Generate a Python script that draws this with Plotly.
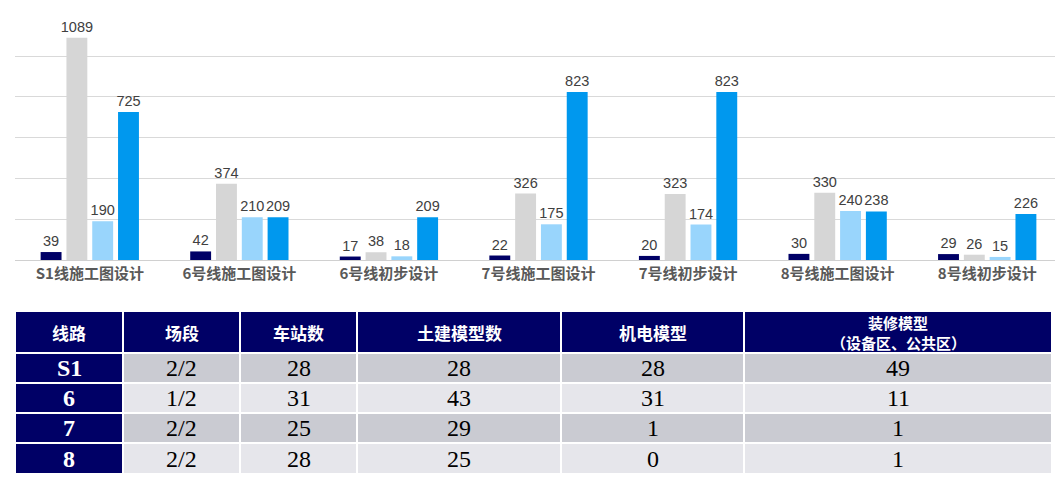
import plotly.graph_objects as go

# 柱状图数据
categories = ["S1线施工图设计", "6号线施工图设计", "6号线初步设计", "7号线施工图设计",
              "7号线初步设计", "8号线施工图设计", "8号线初步设计"]
series_a = [39, 42, 17, 22, 20, 30, 29]
series_b = [1089, 374, 38, 326, 323, 330, 26]
series_c = [190, 210, 18, 175, 174, 240, 15]
series_d = [725, 209, 209, 823, 823, 238, 226]

# 表格数据
header = ["线路", "场段", "车站数", "土建模型数", "机电模型", "装修模型<br>（设备区、公共区）"]
col_line = ["S1", "6", "7", "8"]
col_depot = ["2/2", "1/2", "2/2", "2/2"]
col_station = [28, 31, 25, 28]
col_civil = [28, 43, 29, 25]
col_mep = [28, 31, 1, 0]
col_deco = [49, 11, 1, 1]

# 页面 body 自带 8px 边距，这里整体往回挪
OFF = 8
W, H = 1063 - OFF, 484 - OFF
navy = "#000066"
colors = [navy, "#D6D6D6", "#99D5FC", "#0098EE"]
row_dark, row_light = "#CACBD2", "#E6E6EB"
serif = "Liberation Serif, Times New Roman"

fig = go.Figure()
for vals, c in zip([series_a, series_b, series_c, series_d], colors):
    fig.add_trace(go.Bar(
        x=categories, y=vals, marker_color=c, marker_line_width=0,
        text=vals, textposition="outside", cliponaxis=False, constraintext="none",
        textfont=dict(family="Liberation Sans, Arial", size=14.5, color="#404040"),
        showlegend=False, xaxis="x", yaxis="y",
    ))

# 表格：用热力图画格子，注释写字
col_w = [108, 117, 117, 204, 183, 308]
row_h = [42, 30, 30, 30, 31]
x_edges = [0]
for w in col_w:
    x_edges.append(x_edges[-1] + w)
y_edges = [0]
for h in row_h:
    y_edges.append(y_edges[-1] + h)

body = [col_depot, col_station, col_civil, col_mep, col_deco]
z = [[0] * len(header)]
for i in range(len(col_line)):
    z.append([0] + [1 + i % 2] * len(body))

fig.add_trace(go.Heatmap(
    z=z, x=x_edges, y=y_edges, xaxis="x2", yaxis="y2",
    zmin=0, zmax=2, colorscale=[[0, navy], [0.5, row_dark], [1, row_light]],
    showscale=False, xgap=2, ygap=2, hoverinfo="skip",
))

xc = [(x_edges[i] + x_edges[i + 1]) / 2 for i in range(len(col_w))]
yc = [(y_edges[i] + y_edges[i + 1]) / 2 for i in range(len(row_h))]
ann = []
for j, h in enumerate(header):
    lines = h.split("<br>")
    if len(lines) == 1:
        ys, size = [yc[0]], 17
    else:
        ys, size = [yc[0] - 10, yc[0] + 10], 15
    for line, y in zip(lines, ys):
        ann.append(dict(x=xc[j], y=y, xref="x2", yref="y2", text=f"<b>{line}</b>",
                        showarrow=False, borderpad=0,
                        font=dict(family="Noto Sans CJK SC", size=size, color="white")))
for i, v in enumerate(col_line):
    ann.append(dict(x=xc[0], y=yc[i + 1], xref="x2", yref="y2", text=f"<b>{v}</b>",
                    showarrow=False, font=dict(family=serif, size=24, color="white")))
for j, col in enumerate(body):
    for i, v in enumerate(col):
        ann.append(dict(x=xc[j + 1], y=yc[i + 1], xref="x2", yref="y2", text=str(v),
                        showarrow=False, font=dict(family=serif, size=24, color="black")))

fig.update_layout(
    width=W, height=H,
    margin=dict(l=0, r=0, t=0, b=0),
    paper_bgcolor="white", plot_bgcolor="rgba(0,0,0,0)",
    barmode="group", bargap=0.31, bargroupgap=0.19,
    annotations=ann,
    xaxis=dict(domain=[(15 - OFF) / W, (1062 - OFF) / W], showline=True,
               linecolor="#D0D0D0", ticks="",
               tickfont=dict(family="Noto Sans CJK SC", size=15, color="#595959",
                             weight="bold")),
    yaxis=dict(domain=[1 - (260 - OFF) / H, 1 - (15 - OFF) / H], range=[0, 1201],
               tickvals=[200, 400, 600, 800, 1000, 1200],
               showticklabels=False, gridcolor="#D9D9D9", zeroline=False),
    xaxis2=dict(domain=[(15 - OFF) / W, (1052 - OFF) / W], range=[0, x_edges[-1]],
                visible=False, anchor="y2"),
    yaxis2=dict(domain=[1 - (474 - OFF) / H, 1 - (311 - OFF) / H],
                range=[y_edges[-1], 0], visible=False, anchor="x2"),
)

fig.write_html("out.html")
